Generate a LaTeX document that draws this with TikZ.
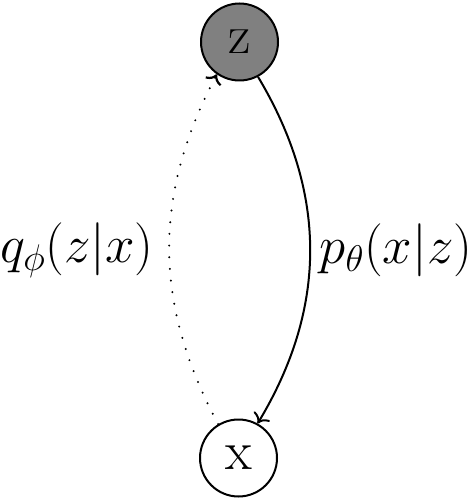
\RequirePackage{fix-cm}
\documentclass[tikz,border=0pt]{standalone}
\usetikzlibrary{arrows.meta}
\begin{document}
\begin{tikzpicture}[x=1pt,y=-1pt,
  var/.style={circle,draw=black,line width=2pt,minimum size=77pt,inner sep=0pt,font=\fontsize{55}{60}\selectfont},
  lbl/.style={inner sep=0pt,font=\fontsize{53}{60}\selectfont},
  conn/.style={line width=2pt,-{To[scale=1.5]}},
  dots/.style={line width=2.2pt,line cap=round,dash pattern=on 0pt off 11.7pt,-{To[scale=1.4,line cap=butt]}}]
\useasboundingbox (0,0) rectangle (475,502);
\node[var,fill=gray] (z) at (239.5,42) {z};
\node[var] (x) at (238.5,458) {x};
\node[lbl] (q) at (77,250) {$q_\phi(z|x)$};
\node[lbl] (p) at (396,250) {$p_\theta(x|z)$};
\draw[conn] (z.-62) to[bend left=31] (x.61);
\draw[dots] (x.121) to[bend left=28] (z.-125);
\end{tikzpicture}
\end{document}
